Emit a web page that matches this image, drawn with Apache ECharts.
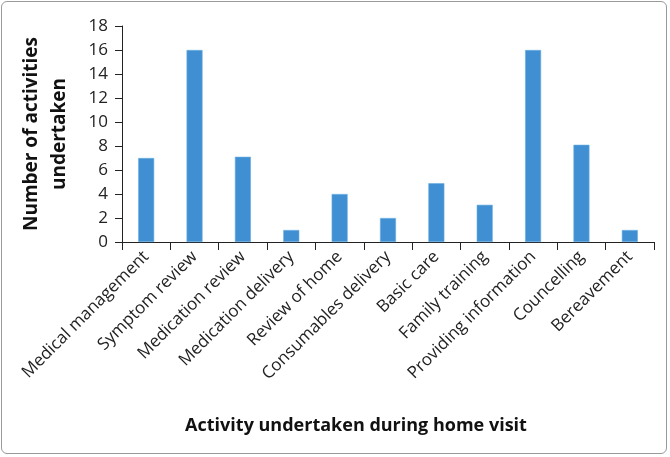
<!DOCTYPE html>
<html>
<head>
<meta charset="utf-8">
<script src="https://cdn.jsdelivr.net/npm/echarts@6/dist/echarts.min.js"></script>
<style>
  html, body { margin: 0; padding: 0; background: #fff; }
  #frame { position: absolute; left: 1px; top: 1px; width: 666px; height: 453px; border: 1px solid #9a9a9a; border-radius: 6px; box-sizing: border-box; }
  #chart { position: absolute; left: 0; top: 0; width: 670px; height: 457px; }
</style>
</head>
<body>
<div id="frame"></div>
<div id="chart"></div>
<script>
// categories and counts
const categories = [
  'Medical management', 'Symptom review', 'Medication review', 'Medication delivery',
  'Review of home', 'Consumables delivery', 'Basic care', 'Family training',
  'Providing information', 'Councelling', 'Bereavement'
]
const counts = [7, 16, 7.1, 1, 4, 2, 4.9, 3.1, 16, 8.1, 1]
const yTicks = { min: 0, max: 18, interval: 2 }

const font = '"Open Sans", "Liberation Sans", sans-serif'
const chart = echarts.init(document.getElementById('chart'))
chart.setOption({
  animation: false,
  grid: { left: 122, right: 16, top: 26, bottom: 215 },
  xAxis: {
    type: 'category',
    data: categories,
    name: 'Activity undertaken during home visit',
    nameLocation: 'middle',
    nameGap: 175,
    nameTextStyle: { fontFamily: font, fontSize: 18, fontWeight: 'bold', color: '#111', padding: [0, 64, 0, 0] },
    axisLine: { lineStyle: { color: '#222', width: 1 } },
    axisTick: { show: true, length: 8, alignWithLabel: false, lineStyle: { color: '#222' } },
    axisLabel: { rotate: 45, interval: 0, margin: 12, fontFamily: font, fontSize: 17, color: '#222' }
  },
  yAxis: {
    type: 'value',
    min: yTicks.min,
    max: yTicks.max,
    interval: yTicks.interval,
    name: 'Number of activities\nundertaken',
    nameLocation: 'middle',
    nameGap: 48,
    nameTextStyle: { fontFamily: font, fontSize: 19, fontWeight: 'bold', color: '#111', lineHeight: 28 },
    axisLine: { show: true, lineStyle: { color: '#222', width: 1 } },
    axisTick: { show: true, length: 7, lineStyle: { color: '#222' } },
    axisLabel: { fontFamily: font, fontSize: 17, color: '#222', margin: 14 },
    splitLine: { show: false }
  },
  series: [{
    type: 'bar',
    data: counts,
    barWidth: 16,
    itemStyle: { color: '#3f8fd2', borderColor: '#6aaee3', borderWidth: 0.6 }
  }]
})
</script>
</body>
</html>
